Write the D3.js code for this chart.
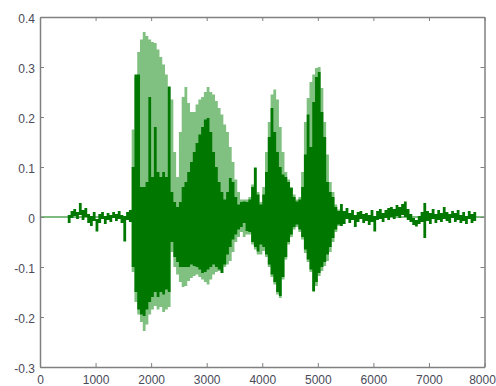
<!DOCTYPE html>
<html>
<head>
<meta charset="utf-8">
<script src="https://cdn.jsdelivr.net/npm/d3@7"></script>
<style>
  html, body { margin: 0; padding: 0; background: #fff; }
  svg { display: block; }
  .tick text { font-family: "Liberation Sans", Arial, sans-serif; font-size: 12px; fill: #4a4a58; }
</style>
</head>
<body>
<svg id="chart" width="496" height="386"></svg>
<script>
// speech waveform, read per 50-sample bin (max / min of each bin)
const binSize = 50
const darkStart = 500      // first sample of the dark trace
const lightStart = 1650    // first sample of the light trace

const xTicks = [0, 1000, 2000, 3000, 4000, 5000, 6000, 7000, 8000]
const yTicks = [-0.3, -0.2, -0.1, 0, 0.1, 0.2, 0.3, 0.4]
const yTickLabels = ['-0.3', '-0.2', '-0.1', '0', '0.1', '0.2', '0.3', '0.4']

const darkHi = [
  0.004, 0.012, 0.016, 0.010, 0.028, 0.014, 0.018, 0.006, 0.002, 0.010,
  -0.004, 0.006, 0.010, 0.002, 0.008, 0.004, 0.010, 0.006, 0.012, 0.004,
  0.002, 0.010, 0.014, 0.10, 0.285, 0.285, 0.06, 0.06, 0.07, 0.24,
  0.08, 0.18, 0.09, 0.08, 0.09, 0.08, 0.26, 0.05, 0.03, 0.02,
  0.03, 0.06, 0.07, 0.09, 0.11, 0.13, 0.148, 0.165, 0.18, 0.195,
  0.198, 0.17, 0.13, 0.10, 0.07, 0.05, 0.035, 0.05, 0.078, 0.07,
  0.04, 0.025, 0.03, 0.031, 0.03, 0.035, 0.06, 0.098, 0.045, 0.025,
  0.045, 0.09, 0.16, 0.218, 0.17, 0.13, 0.10, 0.085, 0.08, 0.07,
  0.058, 0.04, 0.031, 0.035, 0.06, 0.125, 0.205, 0.14, 0.23, 0.28,
  0.29, 0.21, 0.16, 0.07, 0.05, 0.04, 0.02, 0.012, 0.026, 0.012,
  0.018, 0.008, 0.014, 0.004, 0.010, 0.012, 0.006, 0.008, 0.004, 0.014,
  0.002, 0.012, 0.016, 0.008, 0.014, 0.018, 0.020, 0.016, 0.024, 0.020,
  0.026, 0.031, 0.016, 0.006, -0.002, -0.006, 0.002, 0.010, 0.028, 0.012,
  0.008, 0.016, 0.006, 0.014, 0.008, 0.020, 0.010, 0.006, 0.012, 0.008,
  0.014, 0.004, 0.010, 0.002, 0.012, 0.006, 0.010
]
const darkLo = [
  -0.012, -0.002, 0.002, -0.004, 0.004, -0.006, 0.000, -0.012, -0.018, -0.008,
  -0.029, -0.012, -0.004, -0.014, -0.006, -0.010, -0.002, -0.008, -0.004, -0.012,
  -0.049, -0.006, -0.010, -0.10, -0.15, -0.185, -0.195, -0.198, -0.185, -0.17,
  -0.16, -0.15, -0.16, -0.15, -0.155, -0.145, -0.15, -0.05, -0.08, -0.09,
  -0.10, -0.10, -0.10, -0.10, -0.095, -0.098, -0.10, -0.105, -0.112, -0.11,
  -0.105, -0.10, -0.095, -0.10, -0.105, -0.112, -0.095, -0.075, -0.06, -0.045,
  -0.035, -0.025, -0.02, -0.012, -0.028, -0.03, -0.05, -0.06, -0.069, -0.055,
  -0.06, -0.075, -0.095, -0.115, -0.13, -0.15, -0.158, -0.12, -0.08, -0.05,
  -0.035, -0.02, -0.015, -0.025, -0.04, -0.065, -0.085, -0.105, -0.148, -0.13,
  -0.112, -0.10, -0.09, -0.075, -0.06, -0.042, -0.025, -0.015, -0.018, -0.014,
  -0.004, -0.012, -0.006, -0.020, -0.010, -0.004, -0.012, -0.008, -0.016, -0.010,
  -0.029, -0.006, -0.004, -0.010, -0.002, -0.006, 0.000, -0.004, 0.002, -0.002,
  0.004, 0.000, -0.006, -0.010, -0.016, -0.019, -0.014, -0.010, -0.042, -0.008,
  -0.014, -0.004, -0.012, -0.006, -0.010, -0.004, -0.008, -0.012, -0.002, -0.010,
  -0.006, -0.012, -0.008, -0.014, -0.004, -0.012, -0.008
]
const lightHi = [
  0.175, 0.28, 0.33, 0.355, 0.370, 0.362, 0.355,
  0.350, 0.348, 0.335, 0.320, 0.305, 0.285, 0.262, 0.235, 0.13, 0.08,
  0.17, 0.24, 0.26, 0.228, 0.21, 0.21, 0.225, 0.235, 0.24, 0.25,
  0.26, 0.25, 0.245, 0.232, 0.218, 0.205, 0.185, 0.17, 0.14, 0.11,
  0.075, 0.05, 0.035, 0.035, 0.035, 0.04, 0.065, 0.10, 0.05, 0.03,
  0.06, 0.13, 0.19, 0.245, 0.255, 0.235, 0.18, 0.13, 0.09, 0.075,
  0.06, 0.045, 0.035, 0.04, 0.09, 0.19, 0.238, 0.27, 0.285, 0.298,
  0.30, 0.258, 0.19, 0.125, 0.07, 0.05, 0.025, 0.015
]
const lightLo = [
  -0.11, -0.17, -0.195, -0.21, -0.228, -0.215, -0.195,
  -0.185, -0.178, -0.185, -0.18, -0.19, -0.185, -0.18, -0.07, -0.10, -0.115,
  -0.13, -0.14, -0.138, -0.128, -0.122, -0.118, -0.115, -0.12, -0.125, -0.13,
  -0.135, -0.125, -0.115, -0.11, -0.108, -0.112, -0.10, -0.095, -0.088, -0.07,
  -0.05, -0.04, -0.03, -0.04, -0.035, -0.035, -0.055, -0.065, -0.075, -0.075,
  -0.068, -0.08, -0.10, -0.12, -0.135, -0.155, -0.162, -0.125, -0.085, -0.055,
  -0.04, -0.025, -0.02, -0.03, -0.045, -0.072, -0.09, -0.11, -0.15, -0.138,
  -0.118, -0.108, -0.098, -0.088, -0.07, -0.05, -0.03, -0.018
]

const darkColor = '#007800'
const lightColor = '#80c080'
const frameColor = '#808080'

let svg = d3.select('#chart')
let x = d3.scaleLinear().domain([0, 8000]).range([40, 484.5])
let y = d3.scaleLinear().domain([-0.3, 0.4]).range([367, 17])

// zero-padded ends of the recording
svg.append('line')
    .attr('x1', x(0)).attr('x2', x(8000))
    .attr('y1', y(0)).attr('y2', y(0))
    .attr('stroke', darkColor)
    .attr('stroke-width', 1)

// one stepped band per trace: min..max of each bin
function drawBand (hi, lo, start, color) {
    let bins = hi.map(function (h, i) {
        return { s: start + i * binSize, hi: h, lo: lo[i] }
    })
    let last = bins[bins.length - 1]
    bins.push({ s: last.s + binSize, hi: last.hi, lo: last.lo })
    let area = d3.area()
        .curve(d3.curveStepAfter)
        .x(function (d) { return x(d.s) })
        .y0(function (d) { return Math.max(y(d.lo), y(d.hi) + 1) })
        .y1(function (d) { return y(d.hi) })
    svg.append('path')
        .datum(bins)
        .attr('d', area)
        .attr('fill', color)
}

drawBand(lightHi, lightLo, lightStart, lightColor)
drawBand(darkHi, darkLo, darkStart, darkColor)

// box with inward ticks, MATLAB style
function styleAxis (g) {
    g.select('.domain').attr('stroke', frameColor).attr('stroke-width', 1.5)
    g.selectAll('.tick line').attr('stroke', frameColor)
}

let xAxis = svg.append('g')
    .attr('transform', 'translate(0,' + y(-0.3) + ')')
    .call(d3.axisBottom(x).tickValues(xTicks).tickSizeInner(-4).tickSizeOuter(0).tickPadding(8)
        .tickFormat(d3.format('d')))
    .call(styleAxis)
// last label sits on the window edge, nudge it in
xAxis.selectAll('text').filter(function (d) { return d === 8000 }).attr('dx', -2.5)

svg.append('g')
    .attr('transform', 'translate(' + x(0) + ',0)')
    .call(d3.axisLeft(y).tickValues(yTicks).tickSizeInner(-4).tickSizeOuter(0).tickPadding(5)
        .tickFormat(function (d, i) { return yTickLabels[i] }))
    .call(styleAxis)
    .selectAll('text').attr('dy', '0.45em')

svg.append('g')
    .attr('transform', 'translate(0,' + y(0.4) + ')')
    .call(d3.axisTop(x).tickValues(xTicks).tickSizeInner(-4).tickSizeOuter(0).tickFormat(''))
    .call(styleAxis)

svg.append('g')
    .attr('transform', 'translate(' + x(8000) + ',0)')
    .call(d3.axisRight(y).tickValues(yTicks).tickSizeInner(-4).tickSizeOuter(0).tickFormat(''))
    .call(styleAxis)
</script>
</body>
</html>
